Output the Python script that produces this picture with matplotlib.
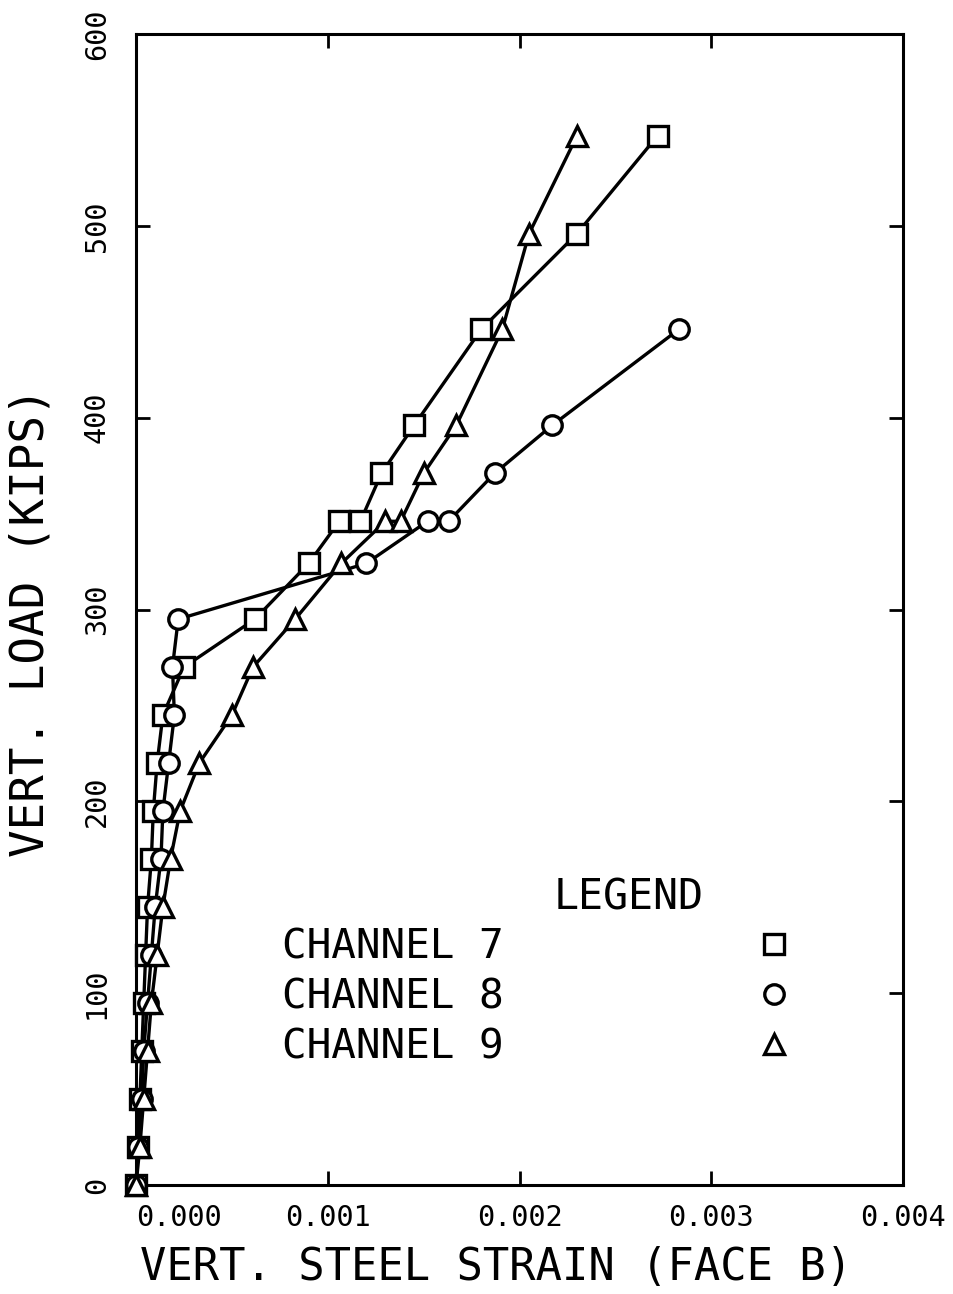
import matplotlib
matplotlib.use("Agg")
import matplotlib.pyplot as plt
from matplotlib.lines import Line2D

plt.rcParams["font.family"] = ["DejaVu Sans Mono"]

# Load steps (kips); the 346 step was read twice
load = [0, 20, 45, 70, 95, 120, 145, 170, 195, 220, 245, 270, 295,
        324, 346, 346, 371, 396, 446, 496, 547]

# Vertical steel strain, face B
ch7 = [0.0, 0.00001, 0.00002, 0.00003, 0.00004, 0.00005, 0.00006, 0.00008,
       0.00009, 0.00011, 0.00014, 0.00025, 0.00062, 0.0009, 0.00106, 0.00117,
       0.00128, 0.00145, 0.0018, 0.0023, 0.00272]
ch8 = [0.0, 0.00001, 0.00003, 0.00004, 0.00006, 0.00008, 0.0001, 0.00013,
       0.00014, 0.00017, 0.0002, 0.00019, 0.00022, 0.0012, 0.00152, 0.00163,
       0.00187, 0.00217, 0.00283]
ch9 = [0.0, 0.00002, 0.00004, 0.00006, 0.00008, 0.00011, 0.00014, 0.00018,
       0.00023, 0.00033, 0.0005, 0.00061, 0.00083, 0.00107, 0.0013, 0.00138,
       0.0015, 0.00167, 0.00191, 0.00205, 0.0023]

labels = ["CHANNEL 7", "CHANNEL 8", "CHANNEL 9"]
markers = ["s", "o", "^"]

fig = plt.figure(figsize=(9.54, 12.94), dpi=100)
ax = fig.add_axes([0.1426, 0.0842, 0.804, 0.8895])

series = [ch7, ch8, ch9]
for strain, m in zip(series, markers):
    ax.plot(strain, load[:len(strain)], color="black", lw=2.4, marker=m,
            ms=14, mfc="white", mec="black", mew=2.4, clip_on=False, zorder=3)

ax.set_xlim(0, 0.004)
ax.set_ylim(0, 600)
ax.set_xticks([0, 0.001, 0.002, 0.003, 0.004])
ax.set_xticklabels(["0.000", "0.001", "0.002", "0.003", "0.004"])
ax.set_yticks([0, 100, 200, 300, 400, 500, 600])
ax.set_yticklabels(["0", "100", "200", "300", "400", "500", "600"],
                   rotation=90, va="center")
ax.xaxis.get_ticklabels()[0].set_ha("left")

ax.tick_params(direction="in", length=10, width=2, top=True, right=True,
               labelsize=20.5)
ax.tick_params(axis="x", pad=14)
ax.tick_params(axis="y", pad=18)
for s in ax.spines.values():
    s.set_linewidth(2.2)

ax.set_xlabel("VERT. STEEL STRAIN (FACE B)", fontsize=31.5, va="baseline")
ax.set_ylabel("VERT. LOAD (KIPS)", fontsize=33)
ax.xaxis.set_label_coords(0.47, -0.0825)
ax.yaxis.set_label_coords(-0.108, 0.489)

ax.text(0.544, 0.25, "LEGEND", transform=ax.transAxes, fontsize=30,
        va="center", ha="left")
handles = [Line2D([], [], ls="none", marker=m, ms=14, mfc="white",
                  mec="black", mew=2.4) for m in markers]
ax.legend(handles, labels, loc="upper left", bbox_to_anchor=(0.19, 0.224),
          frameon=False, markerfirst=False, handlelength=1, handletextpad=6.1,
          labelspacing=0.25, borderpad=0, borderaxespad=0, fontsize=29.5)

plt.savefig("out.png", dpi=100)
